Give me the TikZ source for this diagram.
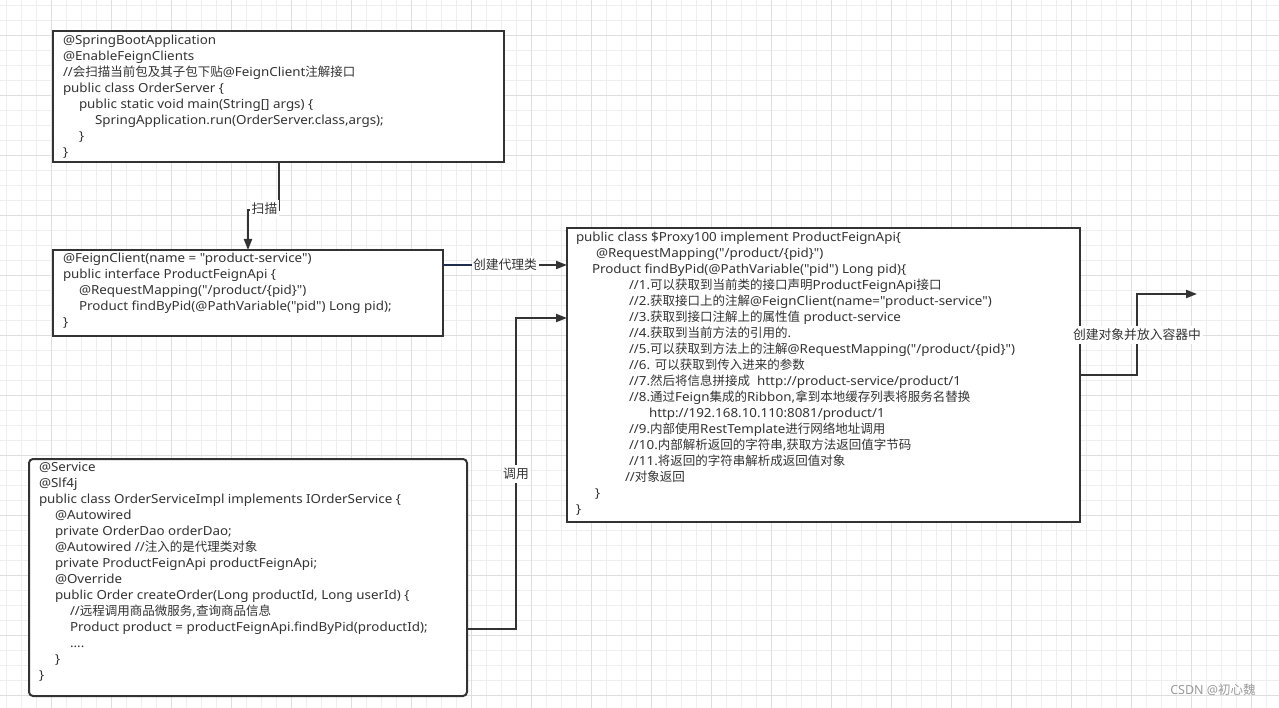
\documentclass[tikz,border=0pt]{standalone}
\usepackage{fontspec}
\setmainfont{Noto Sans}[Ligatures=TeXOff, FakeStretch=1.07]
\newfontfamily\cjkfont{Noto Sans CJK SC}
\newfontfamily\wmfont{Noto Sans}[Ligatures=TeXOff]
\usetikzlibrary{arrows.meta,calc}
\definecolor{ink}{HTML}{333333}
\definecolor{navy}{HTML}{1F2E4F}
\definecolor{gridminor}{HTML}{EEEEEE}
\definecolor{gridmajor}{HTML}{DEDEDE}
\definecolor{wmc}{HTML}{9A9A9A}
\newcommand\zh[1]{{\cjkfont #1}}
\newcommand\ind[1]{\hspace*{#1pt}}
\tikzset{
  box/.style={draw=ink, line width=2pt, fill=white, inner sep=0pt, outer sep=0pt, anchor=north west},
  code/.style={anchor=north west, inner sep=0pt, outer sep=0pt, align=left, text=ink, font=\fontsize{12.5}{16}\selectfont},
  conn/.style={draw=ink, line width=2pt},
  arr/.style={-{Triangle[length=11pt,width=8pt]}},
  lbl/.style={fill=white, inner xsep=1.5pt, inner ysep=3pt, text=ink, font=\cjkfont\fontsize{12.8}{15}\selectfont},
  wm/.style={text=wmc, font=\wmfont\fontsize{12.5}{15}\selectfont}
}
\begin{document}
\begin{tikzpicture}[x=1pt,y=-1pt]
\useasboundingbox (0,0) rectangle (1279,708);
\fill[white] (0,0) rectangle (1279,708);
% grid
\foreach \i in {0,...,85} {\draw[gridminor, line width=0.9pt] ({6+15*\i},0) -- ({6+15*\i},708);}
\foreach \j in {0,...,47} {\draw[gridminor, line width=0.9pt] (0,{5+15*\j}) -- (1279,{5+15*\j});}
\foreach \i in {0,...,20} {\draw[gridmajor, line width=0.9pt] ({51+60*\i},0) -- ({51+60*\i},708);}
\foreach \j in {0,...,11} {\draw[gridmajor, line width=0.9pt] (0,{35+60*\j}) -- (1279,{35+60*\j});}

% boxes
\node[box, minimum width=451pt, minimum height=131pt] (app) at (53,31) {};
\node[box, minimum width=390pt, minimum height=86pt] (feign) at (53,250) {};
\node[box, minimum width=513pt, minimum height=294pt] (proxy) at (567,228) {};
\node[box, minimum width=438pt, minimum height=237pt, rounded corners=4pt] (svc) at (29,459) {};

% texts
\node[code] (appTxt) at (63,33.3) {\strut @SpringBootApplication\\
@EnableFeignClients\\
//\zh{会扫描当前包及其子包下贴}@FeignClient\zh{注解接口}\\
public class OrderServer \{\\
\ind{16}public static void main(String[] args) \{\\
\ind{32}SpringApplication.run(OrderServer.class,args);\\
\ind{16}\}\\
\}};

\node[code] (feignTxt) at (63,251.8) {\strut @FeignClient(name = "product-service")\\
public interface ProductFeignApi \{\\
\ind{16}@RequestMapping("/product/\{pid\}")\\
\ind{16}Product findByPid(@PathVariable("pid") Long pid);\\
\}};

\node[code] (proxyTxt) at (576,230) {\strut public class \$Proxy100 implement ProductFeignApi\{\\
\ind{20}@RequestMapping("/product/\{pid\}")\\
\ind{16}Product findByPid(@PathVariable("pid") Long pid)\{\\
\ind{53}//1.\zh{可以获取到当前类的接口声明}ProductFeignApi\zh{接口}\\
\ind{53}//2.\zh{获取接口上的注解}@FeignClient(name="product-service")\\
\ind{53}//3.\zh{获取到接口注解上的属性值} product-service\\
\ind{53}//4.\zh{获取到当前方法的引用的}.\\
\ind{53}//5.\zh{可以获取到方法上的注解}@RequestMapping("/product/\{pid\}")\\
\ind{53}//6. \zh{可以获取到传入进来的参数}\\
\ind{53}//7.\zh{然后将信息拼接成}\ \ http://product-service/product/1\\
\ind{53}//8.\zh{通过}Feign\zh{集成的}Ribbon,\zh{拿到本地缓存列表将服务名替换}\\
\ind{73}http://192.168.10.110:8081/product/1\\
\ind{53}//9.\zh{内部使用}RestTemplate\zh{进行网络地址调用}\\
\ind{53}//10.\zh{内部解析返回的字符串},\zh{获取方法返回值字节码}\\
\ind{53}//11.\zh{将返回的字符串解析成返回值对象}\\
\ind{49}//\zh{对象返回}\\
\ind{19}\}\\
\}};

\node[code] (svcTxt) at (39,460.6) {\strut @Service\\
@Slf4j\\
public class OrderServiceImpl implements IOrderService \{\\
\ind{16}@Autowired\\
\ind{16}private OrderDao orderDao;\\
\ind{16}@Autowired //\zh{注入的是代理类对象}\\
\ind{16}private ProductFeignApi productFeignApi;\\
\ind{16}@Override\\
\ind{16}public Order createOrder(Long productId, Long userId) \{\\
\ind{31}//\zh{远程调用商品微服务},\zh{查询商品信息}\\
\ind{31}Product product = productFeignApi.findByPid(productId);\\
\ind{31}....\\
\ind{16}\}\\
\}};

% connectors
\coordinate (beanOut) at (1197,294);
\draw[conn, arr] ($(app.south west)+(226,0)$) -- ++(0,48) -| ($(feign.north west)+(195,0)$);
\draw[conn, arr] ($(feign.north east)+(0,15)$) -- ($(proxy.north west)+(0,37)$);
\draw[draw=navy, line width=2pt] ($(feign.north east)+(1,15)$) -- ++(30,0);
\draw[conn, arr] ($(svc.north east)+(0,170)$) -- ++(49,0) |- ($(proxy.north west)+(0,90)$);
\draw[conn, arr] (proxy.east) -- ++(57,0) |- (beanOut);

% labels
\node[lbl] (scanLbl) at (264.5,209) {扫描};
\node[lbl] (proxyLbl) at (505,265) {创建代理类};
\node[lbl] (callLbl) at (516,474) {调用};
\node[lbl] (beanLbl) at (1137,335) {创建对象并放入容器中};

\node[wm] (csdn) at (1213,690) {CSDN @\zh{初心魏}};
\end{tikzpicture}
\end{document}
